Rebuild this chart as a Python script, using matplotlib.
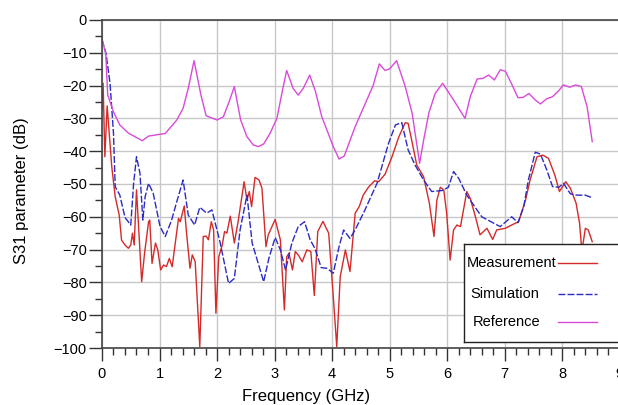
import matplotlib
matplotlib.use("Agg")

import matplotlib.pyplot as plt
from matplotlib.patches import Rectangle
from matplotlib.ticker import MultipleLocator

plt.rcParams["font.family"] = ["Liberation Sans", "DejaVu Sans"]

# Measurement (red)
meas_f = [
    0, 0.02, 0.05, 0.09, 0.17, 0.23, 0.30, 0.34, 0.40, 0.46, 0.50, 0.53, 0.56,
    0.60, 0.69, 0.74, 0.81, 0.83, 0.87, 0.93, 0.97, 1.02, 1.07, 1.12, 1.17,
    1.22, 1.33, 1.36, 1.43, 1.47, 1.53, 1.57, 1.62, 1.70, 1.76, 1.81, 1.85,
    1.90, 1.94, 1.98, 2.03, 2.09, 2.13, 2.17, 2.23, 2.30, 2.37, 2.47, 2.52,
    2.56, 2.60, 2.66, 2.73, 2.78, 2.85, 2.89, 3.01, 3.10, 3.17, 3.21, 3.25,
    3.31, 3.36, 3.41, 3.48, 3.56, 3.63, 3.69, 3.75, 3.84, 3.94, 4.02, 4.08,
    4.14, 4.23, 4.31, 4.40, 4.47, 4.54, 4.63, 4.74, 4.81, 4.92, 5.04, 5.16,
    5.27, 5.32, 5.37, 5.47, 5.59, 5.69, 5.77, 5.82, 5.88, 5.94, 5.99, 6.05,
    6.11, 6.17, 6.23, 6.34, 6.40, 6.49, 6.57, 6.69, 6.79, 6.86, 7.01, 7.12,
    7.24, 7.36, 7.44, 7.56, 7.66, 7.76, 7.87, 7.95, 8.06, 8.14, 8.24, 8.30,
    8.34, 8.40, 8.45, 8.52,
]
meas_db = [
    -27, -19.3, -41.7, -26.2, -44.7, -53.9, -59.5, -67.1, -68.6, -69.6, -68.6,
    -65, -68.6, -51.8, -79.8, -71.1, -61.5, -61, -74.2, -68, -70.1, -76.2,
    -74.7, -75.2, -72.7, -75.2, -60.5, -61.5, -56.7, -65, -75.7, -71.6, -73.7,
    -99.6, -66, -65.9, -67, -61.5, -64, -89.4, -72.2, -68.6, -64.5, -65, -59.8,
    -68, -61, -49.3, -54.9, -52.3, -56.9, -48, -48.8, -51.3, -69.1, -65.5,
    -60.8, -67, -88.4, -72.2, -71.1, -76.2, -70.6, -71.6, -73.7, -70.1, -70.6,
    -84, -64.5, -61.4, -65, -84.4, -99.6, -78.3, -70.1, -76.7, -58.9, -56.9,
    -53.4, -51, -49, -49.3, -47, -41.7, -35.6, -31.3, -31.5, -35.6, -44.2,
    -47.8, -55.9, -66, -54.9, -51, -51.8, -58.9, -73.2, -64, -62.5, -63, -52.3,
    -54.4, -60, -65.5, -63.5, -66.9, -64, -63.5, -62.5, -61.5, -54.9, -48.8,
    -41.7, -41.2, -42.2, -47.3, -52.3, -49.3, -51.3, -55.9, -62, -70.6, -63.5,
    -64, -67.6,
]

# Simulation (blue dashed)
sim_f = [
    0, 0.07, 0.14, 0.2, 0.23, 0.31, 0.40, 0.50, 0.55, 0.60, 0.66, 0.71, 0.75,
    0.81, 0.89, 1.01, 1.10, 1.21, 1.30, 1.41, 1.50, 1.61, 1.70, 1.82, 1.91,
    2.05, 2.20, 2.30, 2.40, 2.52, 2.61, 2.81, 2.90, 3.01, 3.10, 3.19, 3.30,
    3.41, 3.52, 3.62, 3.70, 3.81, 3.91, 4.02, 4.12, 4.20, 4.31, 4.40, 4.57,
    4.78, 4.98, 5.10, 5.21, 5.32, 5.44, 5.59, 5.73, 5.91, 6.02, 6.11, 6.20,
    6.34, 6.60, 6.92, 7.12, 7.23, 7.33, 7.41, 7.53, 7.62, 7.73, 7.83, 7.94,
    8.02, 8.14, 8.25, 8.40, 8.52,
]
sim_db = [
    -6, -10.2, -19.3, -34.5, -50.8, -53.4, -60.2, -62.5, -49.8, -41.7, -46.7,
    -61, -53.9, -49.8, -52.8, -63, -66, -61, -55.4, -48.8, -59.5, -62.5, -57.1,
    -58.9, -57.9, -67.6, -80.3, -78.8, -64, -53.4, -68, -79.8, -72.7, -66.3,
    -70.1, -76.2, -68, -63, -61.5, -67.1, -69.6, -75.5, -75.7, -77.2, -69.1,
    -64, -66.6, -64, -57.9, -49.8, -37.6, -32, -31.3, -39.6, -44.2, -48.8,
    -52.3, -52, -51, -46.2, -48.3, -53.4, -60, -63, -60, -61.8, -56.9, -48.8,
    -40.3, -40.9, -45.7, -50.8, -51, -49.8, -53, -53.4, -53.4, -54.2,
]

# Reference (magenta)
ref_f = [
    0, 0.065, 0.1, 0.2, 0.31, 0.46, 0.70, 0.81, 1.10, 1.30, 1.41, 1.50, 1.60,
    1.72, 1.81, 2.0, 2.11, 2.21, 2.30, 2.41, 2.52, 2.63, 2.72, 2.81, 2.92,
    3.04, 3.15, 3.21, 3.32, 3.41, 3.50, 3.61, 3.71, 3.82, 4.02, 4.12, 4.21,
    4.40, 4.71, 4.82, 4.92, 5.0, 5.12, 5.27, 5.39, 5.52, 5.59, 5.68, 5.79,
    5.92, 6.11, 6.31, 6.40, 6.52, 6.62, 6.72, 6.82, 6.92, 7.01, 7.10, 7.23,
    7.32, 7.42, 7.53, 7.62, 7.73, 7.83, 7.94, 8.02, 8.13, 8.23, 8.33, 8.43,
    8.52,
]
ref_db = [
    -5.8, -10.2, -22.9, -28, -32, -34.5, -36.8, -35.4, -34.6, -30.5, -26.9,
    -20.8, -12.4, -22.9, -29.2, -30.5, -29.5, -24.9, -20.3, -30.5, -35.6,
    -38.1, -38.6, -37.8, -34.6, -30, -20.3, -15.4, -20.8, -22.9, -20.8, -16.8,
    -21.8, -29.5, -38.6, -42.4, -41.5, -32.5, -20.1, -13.4, -15.4, -14.9,
    -12.4, -20.3, -28.4, -43.7, -36.6, -28.4, -22.4, -19.3, -24.4, -30, -23.4,
    -18, -17.8, -16.8, -18.3, -15.2, -15.6, -18.8, -23.7, -23.6, -22.4, -24.4,
    -25.6, -24, -23.4, -21.5, -19.8, -20.5, -19.8, -20.3, -26.4, -37.1,
]

labels = ["Measurement", "Simulation", "Reference"]
colors = ["#d42a2a", "#2b2bc4", "#d94ad9"]
styles = ["-", (0, (5, 1.5)), "-"]

# a hair over 618x405 so the canvas does not round down by one pixel
fig = plt.figure(figsize=(6.1801, 4.0501), dpi=100)
ax = fig.add_axes([0.165, 0.1407, 0.838, 0.81])

series = [(meas_f, meas_db), (sim_f, sim_db), (ref_f, ref_db)]
for (f, db), c, ls in zip(series, colors, styles):
    ax.plot(f, db, color=c, lw=1.0, linestyle=ls)

ax.set_xlim(0, 9)
ax.set_ylim(-100, 0)

ax.xaxis.set_major_locator(MultipleLocator(1))
ax.xaxis.set_minor_locator(MultipleLocator(0.2))
ax.yaxis.set_major_locator(MultipleLocator(10))
ax.yaxis.set_minor_locator(MultipleLocator(5))

ax.tick_params(axis="both", which="major", direction="out",
               length=9.5, width=1.0, color="#333333", labelsize=10.5)
ax.tick_params(axis="both", which="minor", direction="out",
               length=5, width=1.0, color="#333333")
ax.tick_params(axis="y", which="major", pad=1.5)
ax.tick_params(axis="x", which="major", pad=4)

ax.grid(True, which="major", color="#c8c8c8", lw=1.0)
ax.set_axisbelow(True)

for side in ["top", "left", "bottom"]:
    ax.spines[side].set_color("#444444")
    ax.spines[side].set_linewidth(1.2)
ax.spines["right"].set_visible(False)

ax.set_xlabel("Frequency (GHz)", fontsize=12)
ax.set_ylabel("S31 parameter (dB)", fontsize=12)
ax.xaxis.set_label_coords(0.395, -0.125)
ax.yaxis.set_label_coords(-0.14, 0.48)

# legend box: labels on the left, line samples on the right,
# the box runs to the picture's right edge with no right side drawn
box_x0, box_x1, box_y0, box_y1 = 0.699, 0.997, 0.018, 0.317
ax.add_patch(Rectangle((box_x0, box_y0), box_x1 - box_x0, box_y1 - box_y0,
                       transform=ax.transAxes, facecolor="white",
                       edgecolor="none", clip_on=False, zorder=5))
ax.plot([box_x1, box_x0], [box_y1, box_y1], transform=ax.transAxes,
        color="#222222", lw=1.0, clip_on=False, zorder=6)
ax.plot([box_x0, box_x0], [box_y1, box_y0], transform=ax.transAxes,
        color="#222222", lw=1.0, clip_on=False, zorder=6)
ax.plot([box_x0, box_x1], [box_y0, box_y0], transform=ax.transAxes,
        color="#222222", lw=1.0, clip_on=False, zorder=6)

label_x = [0.705, 0.712, 0.716]
row_y = [0.259, 0.165, 0.079]
for lab, c, ls, lx, ry in zip(labels, colors, styles, label_x, row_y):
    ax.text(lx, ry, lab, transform=ax.transAxes, fontsize=10.5,
            ha="left", va="center", zorder=6)
    ax.plot([0.880, 0.956], [ry, ry], transform=ax.transAxes, color=c,
            lw=1.0, linestyle=ls, clip_on=False, zorder=6)

fig.savefig("out.png", dpi=100)
